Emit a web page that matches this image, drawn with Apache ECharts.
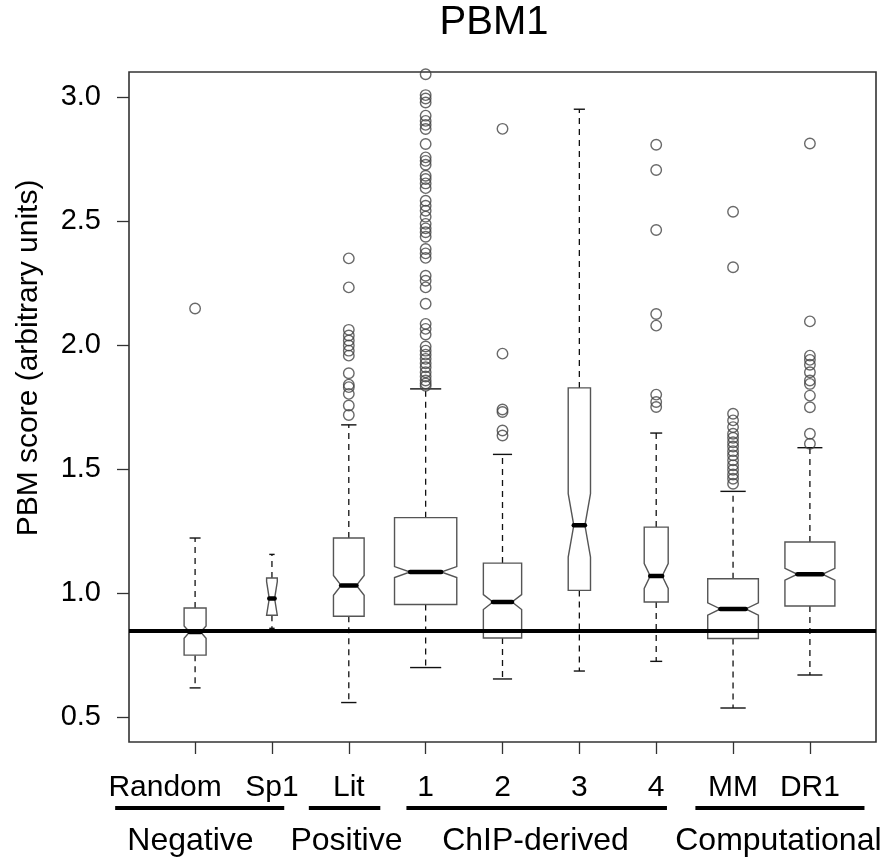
<!DOCTYPE html>
<html>
<head>
<meta charset="utf-8">
<title>PBM1</title>
<script src="https://cdn.jsdelivr.net/npm/echarts@6/dist/echarts.min.js"></script>
<style>
  html, body { margin: 0; padding: 0; background: #fff; }
  #chart { width: 890px; height: 859px; }
</style>
</head>
<body>
<div id="chart"></div>
<script>
// categories and box statistics
var categories  = ['Random', 'Sp1', 'Lit', '1', '2', '3', '4', 'MM', 'DR1'];
var whiskerLow  = [0.618, 0.858, 0.559, 0.700, 0.654, 0.686, 0.725, 0.537, 0.670];
var lowerHinge  = [0.750, 0.911, 0.907, 0.954, 0.819, 1.011, 0.964, 0.817, 0.948];
var medians     = [0.843, 0.978, 1.031, 1.085, 0.964, 1.273, 1.069, 0.936, 1.076];
var upperHinge  = [0.940, 1.061, 1.222, 1.304, 1.121, 1.827, 1.266, 1.058, 1.206];
var whiskerHigh = [1.222, 1.156, 1.678, 1.823, 1.559, 2.950, 1.645, 1.410, 1.586];
var notchHalf   = [0.025, 0.068, 0.040, 0.022, 0.030, 0.128, 0.050, 0.025, 0.024];

// outliers per category
var outliers = [
    [2.147],
    [],
    [2.349, 2.232, 2.061, 2.038, 2.018, 1.998, 1.977, 1.957, 1.886, 1.840, 1.830, 1.803, 1.756, 1.718],
    [3.091, 3.007, 2.993, 2.977, 2.924, 2.903, 2.887, 2.870, 2.810, 2.756, 2.742, 2.726, 2.682, 2.669,
     2.651, 2.632, 2.581, 2.561, 2.541, 2.517, 2.488, 2.470, 2.454, 2.436, 2.387, 2.369, 2.351, 2.279,
     2.259, 2.232, 2.166, 2.085, 2.065, 2.042, 1.994, 1.977, 1.961, 1.944, 1.926, 1.910, 1.890, 1.873,
     1.857, 1.845, 1.835],
    [2.871, 1.965, 1.740, 1.730, 1.655, 1.635],
    [],
    [2.807, 2.705, 2.463, 2.125, 2.078, 1.800, 1.770, 1.750],
    [2.537, 2.313, 1.723, 1.696, 1.669, 1.642, 1.626, 1.608, 1.591, 1.572, 1.555, 1.535, 1.515, 1.497,
     1.478, 1.461, 1.441],
    [2.812, 2.095, 1.957, 1.940, 1.920, 1.890, 1.857, 1.843, 1.796, 1.749, 1.642, 1.602]
];

var refLine = 0.846;
var yTicks = [0.5, 1.0, 1.5, 2.0, 2.5, 3.0];
var xTicks = [1, 2, 3, 4, 5, 6, 7, 8, 9];

var groupNames = ['Negative', 'Positive', 'ChIP-derived', 'Computational'];

// layout (axis units), not data
var boxWidths = [0.286, 0.139, 0.399, 0.81, 0.498, 0.29, 0.312, 0.659, 0.65];
var groupLineFrom = [-0.04, 2.48, 3.75, 7.51];
var groupLineTo = [2.16, 3.41, 7.14, 9.71];
var groupLabelAt = [0.94, 2.97, 5.43, 8.59];

var FONT = 'Liberation Sans, Arial, Helvetica, sans-serif';

var boxData = categories.map(function (c, k) {
    return [k + 1, whiskerLow[k], lowerHinge[k], medians[k], upperHinge[k], whiskerHigh[k], notchHalf[k]];
});

var outlierData = [];
outliers.forEach(function (list, k) {
    list.forEach(function (v) { outlierData.push([k + 1, v]); });
});

function renderBox(params, api) {
    var i = api.value(0);
    var x = api.coord([i, 0])[0];
    var half = api.size([boxWidths[i - 1], 0])[0] / 2;
    var yMin = api.coord([i, api.value(1)])[1];
    var yQ1 = api.coord([i, api.value(2)])[1];
    var med = api.value(3);
    var yMed = api.coord([i, med])[1];
    var yQ3 = api.coord([i, api.value(4)])[1];
    var yMax = api.coord([i, api.value(5)])[1];
    var nh = api.value(6);
    var yNLo = api.coord([i, Math.max(med - nh, api.value(2))])[1];
    var yNHi = api.coord([i, Math.min(med + nh, api.value(4))])[1];
    var xl = x - half, xr = x + half;
    var ml = x - half / 2, mr = x + half / 2;
    var dashStyle = { stroke: '#111', lineWidth: 1.3, lineDash: [6, 5] };
    var capStyle = { stroke: '#111', lineWidth: 1.4 };
    return {
        type: 'group',
        children: [
            { type: 'line', shape: { x1: x, y1: yQ3, x2: x, y2: yMax }, style: dashStyle },
            { type: 'line', shape: { x1: x, y1: yQ1, x2: x, y2: yMin }, style: dashStyle },
            { type: 'line', shape: { x1: ml, y1: yMax, x2: mr, y2: yMax }, style: capStyle },
            { type: 'line', shape: { x1: ml, y1: yMin, x2: mr, y2: yMin }, style: capStyle },
            {
                type: 'polygon',
                shape: { points: [
                    [xl, yQ1], [xl, yNLo], [ml, yMed], [xl, yNHi], [xl, yQ3],
                    [xr, yQ3], [xr, yNHi], [mr, yMed], [xr, yNLo], [xr, yQ1]
                ] },
                style: { fill: '#fff', stroke: '#555', lineWidth: 1.4 }
            },
            {
                type: 'line',
                shape: { x1: ml, y1: yMed, x2: mr, y2: yMed },
                style: { stroke: '#000', lineWidth: 4.5, lineCap: 'round' }
            }
        ]
    };
}

var chart = echarts.init(document.getElementById('chart'));

chart.setOption({
    animation: false,
    backgroundColor: '#fff',
    grid: {
        left: 129, right: 14, top: 72, bottom: 117,
        show: true, borderColor: '#333', borderWidth: 1.6, backgroundColor: 'transparent'
    },
    xAxis: {
        type: 'value',
        min: 0.14,
        max: 9.86,
        splitLine: { show: false },
        axisLine: { show: false },
        axisTick: { show: true, length: 12, customValues: xTicks, lineStyle: { color: '#333', width: 1.3 } },
        axisLabel: {
            customValues: xTicks,
            margin: 31,
            fontSize: 30,
            fontFamily: FONT,
            color: '#000',
            formatter: function (v) {
                var name = categories[Math.round(v) - 1];
                return Math.round(v) === 1 ? '{r|' + name + '}' : name;
            },
            rich: {
                r: { fontSize: 30, fontFamily: FONT, color: '#000', padding: [0, 60, 0, 0] }
            }
        }
    },
    yAxis: {
        type: 'value',
        min: 0.4,
        max: 3.1,
        splitLine: { show: false },
        axisLine: { show: false },
        axisTick: { show: true, length: 12, customValues: yTicks, lineStyle: { color: '#333', width: 1.3 } },
        axisLabel: {
            customValues: yTicks,
            margin: 28,
            fontSize: 29,
            fontFamily: FONT,
            color: '#000',
            formatter: function (v) { return v.toFixed(1); }
        }
    },
    series: [
        {
            type: 'custom',
            name: 'boxes',
            renderItem: renderBox,
            encode: { x: 0, y: [1, 2, 3, 4, 5] },
            data: boxData,
            z: 2
        },
        {
            type: 'scatter',
            name: 'outliers',
            data: outlierData,
            symbol: 'circle',
            symbolSize: 10.5,
            itemStyle: { color: 'rgba(0,0,0,0)', borderColor: '#444', borderWidth: 1.4 },
            z: 3,
            markLine: {
                silent: true,
                symbol: ['none', 'none'],
                label: { show: false },
                lineStyle: { color: '#000', width: 4, type: 'solid' },
                data: [{ yAxis: refLine }]
            }
        }
    ]
});

// title, y title, group underlines and labels
var graphics = [
    {
        type: 'text', x: 494, y: 23,
        style: { text: 'PBM1', font: '40px ' + FONT, fill: '#000',
                 align: 'center', verticalAlign: 'middle', textAlign: 'center', textVerticalAlign: 'middle' }
    },
    {
        type: 'text', x: 29, y: 358, rotation: Math.PI / 2,
        style: { text: 'PBM score (arbitrary units)', font: '30px ' + FONT, fill: '#000',
                 align: 'center', verticalAlign: 'middle', textAlign: 'center', textVerticalAlign: 'middle' }
    }
];
groupNames.forEach(function (name, k) {
    var x1 = chart.convertToPixel({ xAxisIndex: 0 }, groupLineFrom[k]);
    var x2 = chart.convertToPixel({ xAxisIndex: 0 }, groupLineTo[k]);
    var xc = chart.convertToPixel({ xAxisIndex: 0 }, groupLabelAt[k]);
    graphics.push({
        type: 'line',
        shape: { x1: x1, y1: 808, x2: x2, y2: 808 },
        style: { stroke: '#000', lineWidth: 4 }
    });
    graphics.push({
        type: 'text', x: xc, y: 841,
        style: { text: name, font: '32px ' + FONT, fill: '#000',
                 align: 'center', verticalAlign: 'middle', textAlign: 'center', textVerticalAlign: 'middle' }
    });
});
chart.setOption({ graphic: graphics });
</script>
</body>
</html>
